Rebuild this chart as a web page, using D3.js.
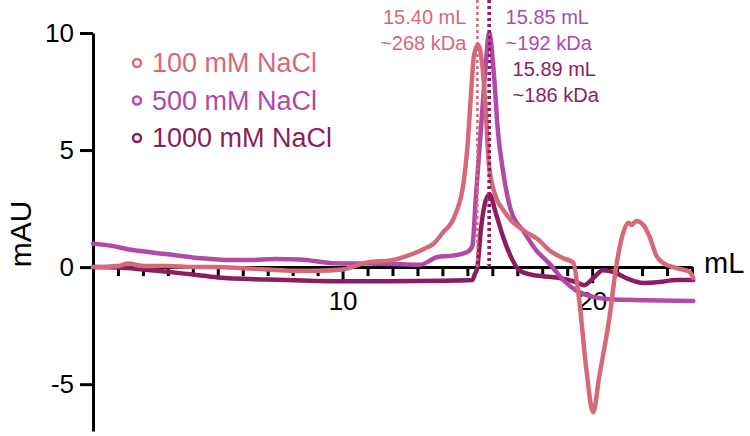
<!DOCTYPE html>
<html>
<head>
    <meta charset="utf-8">
    <style>
        body { margin: 0; background: #fff; }
        svg { display: block; font-family: "Liberation Sans", Arial, sans-serif; }
        .axis path, .axis line { stroke: #000; stroke-width: 3; }
        .trace { fill: none; stroke-width: 4.5; stroke-linejoin: round; stroke-linecap: round; }
    </style>
</head>
<body>
    <svg width="750" height="436"></svg>
    <script src="https://d3js.org/d3.v7.min.js"></script>
    <script>
        // elution volume (mL) and absorbance (mAU)
        var vol100 = [0, 1, 1.4, 2, 3, 4, 5, 6, 7, 8, 9, 10, 10.5, 11, 12, 12.65, 13.3, 13.65, 14, 14.5, 14.86, 15.0, 15.14, 15.26, 15.42, 15.62, 15.74, 15.86, 16.14, 16.4, 16.75, 17.35, 17.87, 18.27, 18.84, 19.24, 19.48, 19.76, 20.04, 20.28, 20.7, 20.96, 21.24, 21.45, 21.57, 21.77, 22.05, 22.3, 22.57, 22.85, 23.37, 23.9, 24.05];
        var mau100 = [0, 0.05, 0.15, 0.05, 0.05, 0, 0, -0.05, -0.1, -0.15, -0.15, -0.1, 0.05, 0.2, 0.3, 0.5, 0.8, 1.0, 1.45, 2.2, 3.7, 5.1, 7.3, 9.0, 9.5, 8.4, 6.6, 4.4, 3.0, 2.5, 2.0, 1.5, 1.15, 0.73, 0.38, 0.2, -1.4, -4.3, -6.2, -4.7, -2.1, 0, 1.45, 1.9, 1.8, 1.97, 1.8, 1.3, 0.5, 0.17, -0.04, -0.2, -0.47];

        var vol500 = [0, 0.5, 1.6, 3, 4.3, 5.5, 6.3, 7.3, 8.3, 9.6, 11, 12.33, 13.1, 13.8, 14.46, 15.0, 15.2, 15.34, 15.54, 15.74, 15.87, 16.08, 16.22, 16.43, 16.75, 17.27, 17.75, 18.27, 18.84, 19.36, 20.04, 20.7, 22.05, 24.05];
        var mau500 = [1.0, 0.95, 0.73, 0.55, 0.38, 0.3, 0.3, 0.35, 0.33, 0.17, 0.15, 0.12, 0.1, 0.43, 0.5, 0.65, 0.9, 3.0, 5.85, 8.7, 10.0, 8.0, 5.85, 4.1, 2.4, 1.5, 0.73, 0.17, -0.55, -1.0, -1.27, -1.37, -1.41, -1.45];

        var vol1000 = [0, 1, 2, 3, 4, 5, 7, 9.6, 11.3, 14, 15.2, 15.3, 15.4, 15.54, 15.74, 15.89, 16.14, 16.43, 16.75, 17.07, 17.63, 18.55, 19.36, 19.68, 20.04, 20.44, 20.84, 21.37, 22.05, 22.69, 23.37, 24.05];
        var mau1000 = [0, -0.02, -0.1, -0.2, -0.32, -0.44, -0.53, -0.6, -0.6, -0.58, -0.55, -0.3, 0, 1.6, 2.86, 3.1, 2.3, 1.3, 0.43, -0.13, -0.34, -0.44, -0.64, -0.77, -0.47, -0.13, -0.2, -0.47, -0.68, -0.64, -0.55, -0.55];

        var seriesNames = ["100 mM NaCl", "500 mM NaCl", "1000 mM NaCl"];
        var seriesColors = ["#d5697a", "#b04aa6", "#8b1e5e"];

        // peak annotations
        var peakVol = [15.40, 15.85, 15.89];
        var peakLabel = ["15.40 mL", "15.85 mL", "15.89 mL"];
        var peakMass = ["~268 kDa", "~192 kDa", "~186 kDa"];

        var yTicks = [10, 5, 0, -5];
        var xTicks = [10, 20];

        var svg = d3.select("svg");

        var x = d3.scaleLinear().domain([0, 24]).range([93, 692]);
        var y = d3.scaleLinear().domain([-7, 10]).range([431, 33]);

        function zip(v, a) {
            return v.map(function (d, i) { return [d, a[i]]; });
        }
        var traces = [zip(vol100, mau100), zip(vol500, mau500), zip(vol1000, mau1000)];

        // y axis
        var yAxis = svg.append("g")
            .attr("class", "axis")
            .attr("transform", "translate(" + x(0) + ",0)")
            .call(d3.axisLeft(y).tickValues(yTicks).tickFormat(String).tickSize(13).tickSizeOuter(0).tickPadding(6));
        yAxis.selectAll("text")
            .attr("font-size", 26)
            .attr("font-family", "Liberation Sans, Arial, sans-serif")
            .attr("fill", "#000");

        // x axis at y = 0, minor ticks every mL
        var minor = d3.range(1, 25).filter(function (d) { return xTicks.indexOf(d) < 0; });
        svg.append("g")
            .attr("class", "axis")
            .attr("transform", "translate(0," + y(0) + ")")
            .call(d3.axisBottom(x).tickValues(minor).tickSize(9).tickSizeOuter(0).tickFormat(""));
        var xAxis = svg.append("g")
            .attr("class", "axis")
            .attr("transform", "translate(0," + y(0) + ")")
            .call(d3.axisBottom(x).tickValues(xTicks).tickSize(16).tickSizeOuter(0).tickPadding(8));
        xAxis.select(".domain").remove();
        xAxis.selectAll("text")
            .attr("font-size", 26)
            .attr("font-family", "Liberation Sans, Arial, sans-serif")
            .attr("fill", "#000");

        // axis titles
        svg.append("text")
            .attr("transform", "translate(31,234) rotate(-90)")
            .attr("text-anchor", "middle")
            .attr("font-size", 30)
            .text("mAU");
        svg.append("text")
            .attr("x", x(24) + 12)
            .attr("y", y(0) + 6)
            .attr("font-size", 29)
            .text("mL");

        // traces
        var line = d3.line()
            .x(function (d) { return x(d[0]); })
            .y(function (d) { return y(d[1]); })
            .curve(d3.curveMonotoneX);

        [2, 1, 0].forEach(function (i) {
            svg.append("path")
                .datum(traces[i])
                .attr("class", "trace")
                .attr("stroke", seriesColors[i])
                .attr("d", line);
        });

        // dotted peak markers
        svg.selectAll(".peak")
            .data(peakVol)
            .enter().append("line")
            .attr("class", "peak")
            .attr("x1", function (d) { return x(d); })
            .attr("x2", function (d) { return x(d); })
            .attr("y1", 0)
            .attr("y2", y(0))
            .attr("stroke", function (d, i) { return seriesColors[i]; })
            .attr("stroke-width", function (d, i) { return i === 0 ? 2.5 : 3; })
            .attr("stroke-dasharray", "3,3");

        // peak labels
        var labelPos = [
            { dx: -11, anchor: "end", y: 24 },
            { dx: 17, anchor: "start", y: 24 },
            { dx: 23, anchor: "start", y: 76 }
        ];
        peakVol.forEach(function (v, i) {
            var p = labelPos[i];
            var t = svg.append("text")
                .attr("fill", seriesColors[i])
                .attr("font-size", 20)
                .attr("text-anchor", p.anchor);
            t.append("tspan").attr("x", x(v) + p.dx).attr("y", p.y).text(peakLabel[i]);
            t.append("tspan").attr("x", x(v) + p.dx).attr("y", p.y + 26).text(peakMass[i]);
        });

        // legend
        var legend = svg.append("g").attr("transform", "translate(137,63)");
        var item = legend.selectAll("g")
            .data(seriesNames)
            .enter().append("g")
            .attr("transform", function (d, i) { return "translate(0," + (i * 37.5) + ")"; });
        item.append("circle")
            .attr("r", 4)
            .attr("fill", "none")
            .attr("stroke-width", 2.5)
            .attr("stroke", function (d, i) { return seriesColors[i]; });
        item.append("text")
            .attr("x", 15)
            .attr("dy", "0.35em")
            .attr("font-size", 27)
            .attr("fill", function (d, i) { return seriesColors[i]; })
            .text(function (d) { return d; });
    </script>
</body>
</html>
